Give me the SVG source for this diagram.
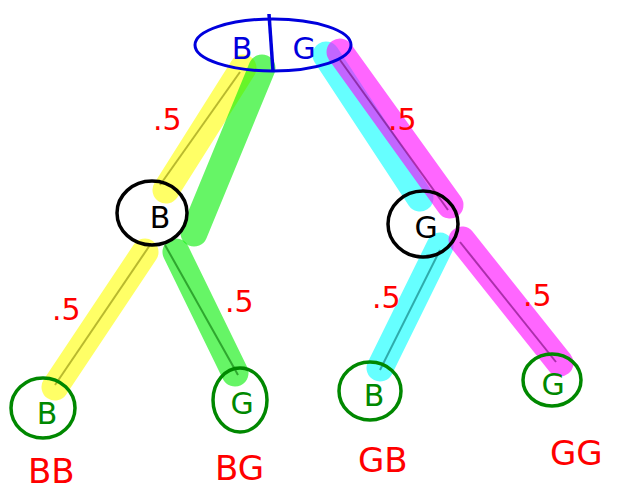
<svg xmlns="http://www.w3.org/2000/svg" width="643" height="495" viewBox="0 0 643 495">
<style>
.hl{fill:none;stroke-width:27;stroke-linecap:round;opacity:0.6}
.y{stroke:#ffff00}.g{stroke:#00ee00}.c{stroke:#00ffff}.m{stroke:#ff00ff}
.edge{fill:none;stroke-width:2;opacity:0.55}
.lbl{font-family:"DejaVu Sans",sans-serif;fill:#ff0000;font-size:34px}
.p{font-family:"DejaVu Sans",sans-serif;fill:#ff0000;font-size:30px}
.nt{font-family:"DejaVu Sans",sans-serif;font-size:30px;text-anchor:middle}
.leaf{fill:none;stroke:#008800;stroke-width:3.5}
.inner{fill:none;stroke:#000;stroke-width:3.5}
</style>
<rect width="643" height="495" fill="#fff"/>
<g id="connectors">
<line class="hl y" x1="243" y1="68" x2="166" y2="190"/>
<line class="hl g" x1="262" y1="68" x2="194" y2="233"/>
<line class="hl c" x1="326" y1="55" x2="420" y2="198"/>
<line class="hl m" x1="340" y1="52" x2="450" y2="205"/>
<line class="hl y" x1="145" y1="252" x2="55" y2="387"/>
<line class="hl g" x1="176" y1="252" x2="235" y2="373"/>
<line class="hl c" x1="440" y1="246" x2="380" y2="368"/>
<line class="hl m" x1="462" y1="240" x2="560" y2="363"/>
<line class="edge" stroke="#808000" x1="240" y1="72" x2="160" y2="185"/>
<line class="edge" stroke="#006600" x1="165" y1="245" x2="238" y2="375"/>
<line class="edge" stroke="#660066" x1="340" y1="60" x2="448" y2="210"/>
<line class="edge" stroke="#660066" x1="460" y1="242" x2="556" y2="362"/>
<line class="edge" stroke="#808000" x1="150" y1="245" x2="55" y2="385"/>
<line class="edge" stroke="#006666" x1="440" y1="250" x2="380" y2="370"/>
</g>
<g id="root">
<ellipse cx="273" cy="45" rx="78" ry="26" fill="none" stroke="#0000dd" stroke-width="3"/>
<line x1="269" y1="14" x2="273" y2="71" stroke="#0000dd" stroke-width="3.5"/>
<text class="nt" x="242" y="59" fill="#0000dd" font-size="36">B</text>
<text class="nt" x="304" y="59" fill="#0000dd" font-size="36">G</text>
</g>
<g id="nodeB">
<ellipse cx="152" cy="213" rx="35" ry="32" class="inner"/>
<text class="nt" x="160" y="228" fill="#000" font-size="30">B</text>
</g>
<g id="nodeG">
<ellipse cx="423" cy="224" rx="35" ry="33" class="inner"/>
<text class="nt" x="426" y="238" fill="#000" font-size="32">G</text>
</g>
<g id="leafBB">
<ellipse cx="43" cy="408" rx="32" ry="30" class="leaf"/>
<text class="nt" x="47" y="424" fill="#008800" font-size="30">B</text>
</g>
<g id="leafBG">
<ellipse cx="240" cy="400" rx="27" ry="32" class="leaf"/>
<text class="nt" x="242" y="414" fill="#008800" font-size="30">G</text>
</g>
<g id="leafGB">
<ellipse cx="370" cy="391" rx="31" ry="29" class="leaf"/>
<text class="nt" x="374" y="406" fill="#008800" font-size="28">B</text>
</g>
<g id="leafGG">
<ellipse cx="552" cy="380" rx="29" ry="26" class="leaf"/>
<text class="nt" x="553" y="395" fill="#008800" font-size="28">G</text>
</g>
<g id="labels">
<text class="lbl" x="28" y="483">BB</text>
<text class="lbl" x="215" y="480">BG</text>
<text class="lbl" x="358" y="472">GB</text>
<text class="lbl" x="550" y="465">GG</text>
<text class="p" x="153" y="130">.5</text>
<text class="p" x="388" y="130">.5</text>
<text class="p" x="52" y="320">.5</text>
<text class="p" x="225" y="312">.5</text>
<text class="p" x="372" y="308">.5</text>
<text class="p" x="523" y="306">.5</text>
</g>
</svg>
